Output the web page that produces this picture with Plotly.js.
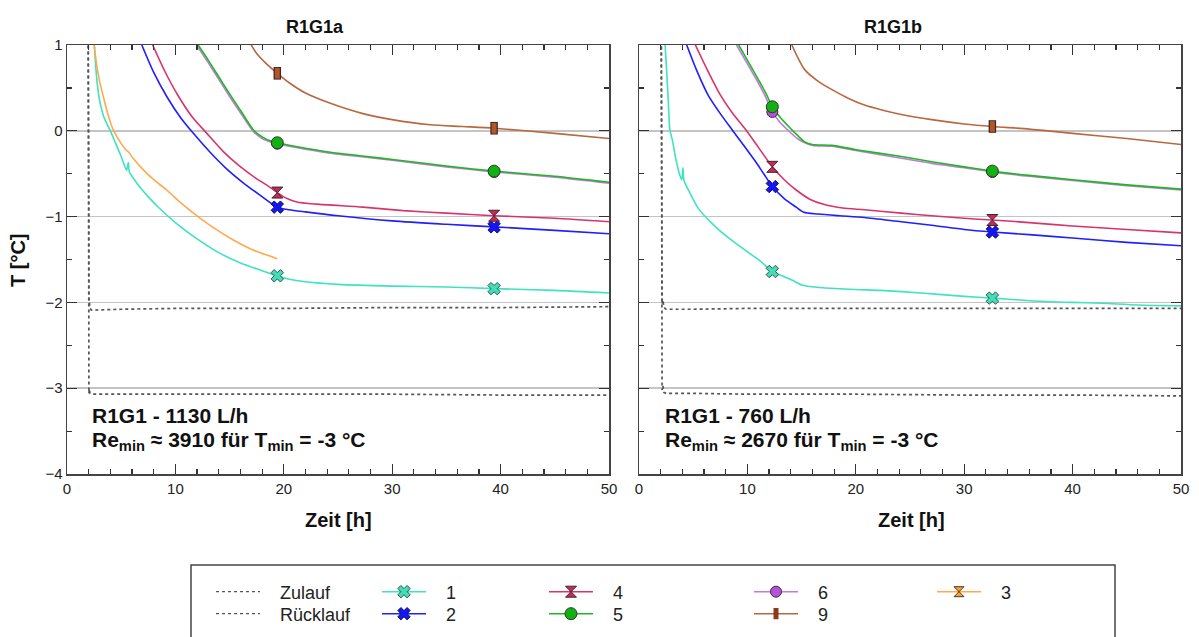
<!DOCTYPE html>
<html><head><meta charset="utf-8">
<script src="https://cdn.plot.ly/plotly-3.0.1.min.js"></script>
<style>html,body{margin:0;padding:0;background:#fff}#chart{width:1199px;height:637px}</style>
</head><body><div id="chart"></div>
<script>
// ================= DATA: R1G1a (left panel) =================
const a_zul_x = [1.6, 1.95, 2.0, 2.02, 2.06, 2.12, 2.25, 5, 10, 20, 30, 40, 50];
const a_zul_y = [1.3, 1.3, -0.5, -2.03, -1.99, -2.07, -2.09, -2.08, -2.07, -2.07, -2.06, -2.06, -2.05];
const a_ruk_x = [1.6, 1.95, 2.0, 2.02, 2.06, 2.12, 2.25, 5, 10, 20, 30, 40, 50];
const a_ruk_y = [1.3, 1.3, -1.0, -3.06, -3.01, -3.06, -3.07, -3.07, -3.07, -3.07, -3.07, -3.08, -3.08];
const a_s1_x = [2.5, 2.62, 2.75, 3.0, 3.4, 4.0, 4.5, 5.0, 5.5, 5.65, 5.75, 6.0, 6.5, 7.5, 8.5, 10, 12, 14, 16, 18, 19.4, 20.5, 22, 25, 30, 35, 39.4, 45, 50];
const a_s1_y = [1.02, 0.8, 0.6, 0.36, 0.16, 0.0, -0.15, -0.3, -0.46, -0.37, -0.48, -0.53, -0.62, -0.77, -0.9, -1.07, -1.26, -1.42, -1.54, -1.63, -1.69, -1.73, -1.76, -1.79, -1.81, -1.82, -1.84, -1.86, -1.89];
const a_s3_x = [2.5, 2.7, 3.0, 3.35, 3.8, 4.27, 5.0, 5.5, 5.7, 6.1, 7, 8, 9.2, 10.5, 12.3, 14, 15.3, 17, 19.4];
const a_s3_y = [1.02, 0.8, 0.58, 0.4, 0.18, 0.01, -0.15, -0.23, -0.25, -0.32, -0.45, -0.57, -0.69, -0.84, -1.02, -1.17, -1.27, -1.38, -1.49];
const a_s2_x = [6.9, 8.0, 9.2, 10.5, 11.8, 13.2, 14.7, 16.2, 17.8, 19.4, 20.5, 22, 25, 30, 35, 39.4, 45, 50];
const a_s2_y = [1.0, 0.68, 0.4, 0.15, -0.05, -0.25, -0.44, -0.6, -0.75, -0.89, -0.92, -0.945, -0.99, -1.05, -1.09, -1.12, -1.16, -1.20];
const a_s4_x = [7.9, 9.0, 10.2, 11.5, 12.9, 14.4, 15.9, 17.5, 18.4, 19.4, 20.3, 21.2, 23, 27.3, 31, 35, 39.4, 45, 50];
const a_s4_y = [1.0, 0.7, 0.42, 0.17, -0.03, -0.24, -0.41, -0.56, -0.63, -0.72, -0.79, -0.83, -0.855, -0.89, -0.93, -0.96, -0.99, -1.02, -1.06];
const a_s5_x = [12.1, 13.0, 14.0, 15.0, 16.0, 17.2, 18.0, 18.8, 19.4, 21, 24.3, 27, 30.4, 35, 39.4, 45, 50];
const a_s5_y = [1.0, 0.83, 0.63, 0.43, 0.24, 0.01, -0.07, -0.12, -0.14, -0.18, -0.25, -0.29, -0.34, -0.41, -0.47, -0.53, -0.6];
const a_s6_x = [11.95, 13.0, 14.0, 15.0, 16.0, 17.2, 18.0, 18.8, 19.4, 21, 24.3, 27, 30.4, 35, 39.4, 45, 50];
const a_s6_y = [1.0, 0.8, 0.6, 0.4, 0.21, -0.01, -0.09, -0.13, -0.15, -0.19, -0.26, -0.3, -0.35, -0.42, -0.48, -0.54, -0.61];
const a_s9_x = [16.9, 17.5, 18.4, 19.4, 20.5, 22, 24.3, 27.3, 30, 33.5, 36.5, 39.4, 45, 50];
const a_s9_y = [1.02, 0.9, 0.78, 0.67, 0.56, 0.44, 0.32, 0.2, 0.13, 0.07, 0.05, 0.03, -0.03, -0.09];
const a_mark_x = [19.4, 39.4];
const a_m1 = [-1.69, -1.84];
const a_m2 = [-0.89, -1.12];
const a_m4 = [-0.72, -0.99];
const a_m5 = [-0.14, -0.47];
const a_m6 = [-0.15, -0.48];
const a_m9 = [0.67, 0.03];

// ================= DATA: R1G1b (right panel) =================
const b_zul_x = [1.8, 2.05, 2.1, 2.13, 2.2, 2.3, 2.5, 5, 10, 20, 30, 40, 50];
const b_zul_y = [1.3, 1.3, -0.5, -2.02, -1.97, -2.06, -2.08, -2.08, -2.07, -2.07, -2.07, -2.07, -2.07];
const b_ruk_x = [1.8, 2.05, 2.1, 2.13, 2.2, 2.3, 2.5, 5, 10, 20, 30, 40, 50];
const b_ruk_y = [1.3, 1.3, -1.0, -3.02, -2.97, -3.05, -3.06, -3.06, -3.07, -3.07, -3.08, -3.08, -3.09];
const b_s1_x = [2.4, 2.55, 2.7, 2.85, 3.1, 3.4, 3.8, 3.95, 4.05, 4.15, 4.6, 5.5, 6.5, 7.5, 8.6, 10, 11.3, 12.3, 13.2, 14.1, 15.1, 17, 20, 22.3, 26, 30, 32.6, 36, 40, 42.7, 46, 50];
const b_s1_y = [1.02, 0.7, 0.35, 0.01, -0.12, -0.33, -0.53, -0.57, -0.43, -0.58, -0.7, -0.91, -1.05, -1.17, -1.28, -1.41, -1.53, -1.64, -1.69, -1.74, -1.80, -1.83, -1.85, -1.86, -1.89, -1.93, -1.95, -1.98, -2.0, -2.01, -2.03, -2.04];
const b_s2_x = [4.4, 5.3, 6.4, 7.5, 8.6, 9.6, 10.7, 11.5, 12.3, 13.4, 14.5, 15.2, 16.5, 18.5, 20.8, 24.2, 27, 30, 32.6, 36, 40, 45, 50];
const b_s2_y = [1.0, 0.71, 0.41, 0.2, 0.01, -0.16, -0.35, -0.5, -0.65, -0.79, -0.89, -0.95, -0.97, -0.99, -1.01, -1.06, -1.1, -1.15, -1.18, -1.21, -1.25, -1.30, -1.34];
const b_s4_x = [5.2, 6.3, 7.4, 8.6, 9.8, 11.0, 12.3, 13.4, 14.5, 15.8, 17.1, 18.8, 20.8, 24.2, 27, 30, 32.6, 36, 40, 45, 50];
const b_s4_y = [1.0, 0.71, 0.44, 0.21, 0.02, -0.19, -0.42, -0.57, -0.69, -0.8, -0.86, -0.9, -0.92, -0.96, -0.99, -1.02, -1.04, -1.07, -1.11, -1.15, -1.19];
const b_s5_x = [9.2, 10.1, 11.0, 11.7, 12.3, 13.0, 13.8, 14.6, 15.3, 16.0, 17.8, 20, 24.2, 27, 30, 32.6, 36, 40, 45, 50];
const b_s5_y = [1.0, 0.8, 0.6, 0.44, 0.28, 0.16, 0.05, -0.05, -0.13, -0.16, -0.17, -0.22, -0.3, -0.36, -0.42, -0.47, -0.52, -0.57, -0.63, -0.68];
const b_s6_x = [9.0, 10.0, 11.0, 11.7, 12.3, 13.0, 13.8, 14.6, 15.3, 16.0, 17.8, 20, 24.2, 27, 30, 32.6, 36, 40, 45, 50];
const b_s6_y = [1.0, 0.78, 0.56, 0.39, 0.22, 0.1, 0.0, -0.09, -0.14, -0.17, -0.18, -0.23, -0.32, -0.38, -0.43, -0.48, -0.53, -0.58, -0.64, -0.69];
const b_s9_x = [14.1, 14.7, 15.3, 16.5, 17.8, 19.3, 20.8, 22.5, 24.2, 27, 30, 32.6, 36, 40, 45, 50];
const b_s9_y = [1.0, 0.84, 0.71, 0.58, 0.48, 0.38, 0.3, 0.24, 0.19, 0.13, 0.08, 0.05, 0.02, -0.03, -0.09, -0.16];
const b_mark_x = [12.3, 32.6];
const b_m1 = [-1.64, -1.95];
const b_m2 = [-0.65, -1.18];
const b_m4 = [-0.42, -1.04];
const b_m5 = [0.28, -0.47];
const b_m6 = [0.22, -0.48];
const b_m9 = [null, 0.05];

// ================= TEXT =================
const panel_titles = ['R1G1a', 'R1G1b'];
const info_line1 = ['R1G1 - 1130 L/h', 'R1G1 - 760 L/h'];
const info_line2 = ['Re<sub>min</sub> ≈ 3910 für T<sub>min</sub> = -3 °C', 'Re<sub>min</sub> ≈ 2670 für T<sub>min</sub> = -3 °C'];
const x_title = 'Zeit [h]';
const y_title = 'T [°C]';
const legend_names = {zul: 'Zulauf', ruk: 'Rücklauf', s1: '1', s2: '2', s3: '3', s4: '4', s5: '5', s6: '6', s9: '9'};

// ================= STYLE =================
const FONT = 'Liberation Sans, Arial, sans-serif';
const COL = {zul: '#555555', s1: '#3fe3bd', s2: '#1f1fff', s3: '#ffa94f', s4: '#d9336b', s5: '#21b821', s6: '#c07ae0', s9: '#b8683e'};
const MK = {
  s1: {symbol: 'x', size: 11, color: '#45dcb8', line: {color: '#2b5a4c', width: 1}},
  s2: {symbol: 'x', size: 11, color: '#1414ff', line: {color: '#1a1a3a', width: 1}},
  s3: {symbol: 'hourglass', size: 10, color: '#ffa030', line: {color: '#4a3a20', width: 1}},
  s4: {symbol: 'hourglass', size: 11, color: '#c8285a', line: {color: '#3a2a2a', width: 1}},
  s5: {symbol: 'circle', size: 12, color: '#12b012', line: {color: '#2a3a2a', width: 1}},
  s6: {symbol: 'circle', size: 11, color: '#b552d8', line: {color: '#3a2a3a', width: 1}}
};

const L = 67, R = 1181, T = 45, B = 474, W = 1199, H = 637;
const px = p => (p - L) / (R - L);
const py = p => (B - p) / (B - T);

const traces = [];
function addLine(x, y, key, xa, ya, dash) {
  traces.push({type: 'scatter', mode: 'lines', x: x, y: y, xaxis: xa, yaxis: ya, showlegend: false,
    line: dash ? {color: COL[key], width: 1.7, dash: dash} : {color: COL[key], width: 1.6, shape: 'spline', smoothing: 0.7},
    hoverinfo: 'skip'});
}
function addMarkers(x, y, key, xa, ya) {
  traces.push({type: 'scatter', mode: 'markers', x: x, y: y, xaxis: xa, yaxis: ya, showlegend: false,
    marker: MK[key], hoverinfo: 'skip'});
}
function addRectMarkers(x, y, xa, ya) {
  traces.push({type: 'scatter', mode: 'markers', x: x, y: y, xaxis: xa, yaxis: ya, showlegend: false,
    marker: {symbol: 'line-ns', size: 9, color: '#3a2a20', line: {color: '#3a2a20', width: 7.5}}, hoverinfo: 'skip'});
  traces.push({type: 'scatter', mode: 'markers', x: x, y: y, xaxis: xa, yaxis: ya, showlegend: false,
    marker: {symbol: 'line-ns', size: 7.6, color: '#b5562a', line: {color: '#b5562a', width: 5}}, hoverinfo: 'skip'});
}

const panels = [
  {xa: 'x', ya: 'y', zul: [a_zul_x, a_zul_y], ruk: [a_ruk_x, a_ruk_y], s1: [a_s1_x, a_s1_y], s3: [a_s3_x, a_s3_y], s2: [a_s2_x, a_s2_y],
   s4: [a_s4_x, a_s4_y], s6: [a_s6_x, a_s6_y], s5: [a_s5_x, a_s5_y], s9: [a_s9_x, a_s9_y],
   mx: a_mark_x, m: {s1: a_m1, s2: a_m2, s4: a_m4, s6: a_m6, s5: a_m5}, m9: a_m9},
  {xa: 'x2', ya: 'y2', zul: [b_zul_x, b_zul_y], ruk: [b_ruk_x, b_ruk_y], s1: [b_s1_x, b_s1_y], s3: null, s2: [b_s2_x, b_s2_y],
   s4: [b_s4_x, b_s4_y], s6: [b_s6_x, b_s6_y], s5: [b_s5_x, b_s5_y], s9: [b_s9_x, b_s9_y],
   mx: b_mark_x, m: {s1: b_m1, s2: b_m2, s4: b_m4, s6: b_m6, s5: b_m5}, m9: b_m9}
];

panels.forEach(p => {
  addLine(p.zul[0], p.zul[1], 'zul', p.xa, p.ya, 'dot');
  addLine(p.ruk[0], p.ruk[1], 'zul', p.xa, p.ya, 'dot');
  ['s1', 's3', 's2', 's4', 's6', 's5', 's9'].forEach(k => { if (p[k]) addLine(p[k][0], p[k][1], k, p.xa, p.ya); });
  ['s1', 's2', 's4', 's6', 's5'].forEach(k => addMarkers(p.mx, p.m[k], k, p.xa, p.ya));
  addRectMarkers(p.mx, p.m9, p.xa, p.ya);
});

// legend entries (one legend per cell of the 5x2 grid)
const legendCells = [
  {key: 'zul', lg: 'legend', dash: 'dot'},
  {key: 'ruk', lg: 'legend2', dash: 'dot'},
  {key: 's1', lg: 'legend3'}, {key: 's2', lg: 'legend4'},
  {key: 's4', lg: 'legend5'}, {key: 's5', lg: 'legend6'},
  {key: 's6', lg: 'legend7'}, {key: 's9', lg: 'legend8'},
  {key: 's3', lg: 'legend9'}
];
const GAP = '\u00a0\u00a0\u00a0';
legendCells.forEach(c => {
  const t = {type: 'scatter', x: [null], y: [null], name: GAP + legend_names[c.key], legend: c.lg, showlegend: true, hoverinfo: 'skip'};
  if (c.dash) {
    t.mode = 'lines'; t.line = {color: '#555', width: 1.2, dash: 'dot'};
  } else if (c.key === 's9') {
    t.mode = 'lines+markers'; t.line = {color: COL.s9, width: 1.6};
    t.marker = {symbol: 'line-ns', size: 8, color: '#8a3a1a', line: {color: '#8a3a1a', width: 5}};
  } else {
    t.mode = 'lines+markers'; t.line = {color: COL[c.key], width: 1.6}; t.marker = MK[c.key];
  }
  traces.push(t);
});

const legPos = {legend: [211, 592], legend2: [211, 614], legend3: [377, 592], legend4: [377, 614],
  legend5: [544, 592], legend6: [544, 614], legend7: [749, 592], legend8: [749, 614], legend9: [932, 592]};

const axCommon = {
  range: [0, 50], tick0: 0, dtick: 10, ticks: 'inside', ticklen: 10, tickwidth: 1.2, tickcolor: '#333',
  minor: {dtick: 2, ticks: 'inside', ticklen: 5, tickwidth: 1.2, tickcolor: '#333', showgrid: false},
  showline: true, linecolor: '#444', linewidth: 1.5, mirror: 'ticks', showgrid: false, zeroline: false,
  tickfont: {size: 15, color: '#222', family: FONT}, automargin: false, fixedrange: true
};
const ayCommon = {
  range: [-4, 1], tick0: 0, dtick: 1, ticks: 'inside', ticklen: 10, tickwidth: 1.2, tickcolor: '#333',
  minor: {dtick: 0.5, ticks: 'inside', ticklen: 5, tickwidth: 1.2, tickcolor: '#333', showgrid: false},
  showline: true, linecolor: '#444', linewidth: 1.5, mirror: 'ticks', showgrid: true, gridcolor: '#c4c4c4', gridwidth: 1.5,
  zeroline: false, tickfont: {size: 15, color: '#222', family: FONT}, automargin: false, fixedrange: true
};

const bold = (t, size, extra) => Object.assign({text: '<b>' + t + '</b>', showarrow: false, font: {size: size, color: '#111', family: FONT}}, extra);

const layout = {
  width: W, height: H, margin: {l: L, r: W - R, t: T, b: H - B, pad: 0, autoexpand: false},
  paper_bgcolor: '#fff', plot_bgcolor: '#fff', font: {family: FONT, color: '#222'},
  xaxis: Object.assign({}, axCommon, {domain: [0, px(609)], anchor: 'y'}),
  xaxis2: Object.assign({}, axCommon, {domain: [px(639), 1], anchor: 'y2'}),
  yaxis: Object.assign({}, ayCommon, {domain: [0, 1], anchor: 'x'}),
  yaxis2: Object.assign({}, ayCommon, {domain: [0, 1], anchor: 'x2', showticklabels: false}),
  annotations: [
    bold(panel_titles[0], 18, {xref: 'paper', yref: 'paper', x: px(315), y: py(27), xanchor: 'center', yanchor: 'middle'}),
    bold(panel_titles[1], 18, {xref: 'paper', yref: 'paper', x: px(893), y: py(27), xanchor: 'center', yanchor: 'middle'}),
    bold(x_title, 20, {xref: 'paper', yref: 'paper', x: px(338), y: py(520), xanchor: 'center', yanchor: 'middle'}),
    bold(x_title, 20, {xref: 'paper', yref: 'paper', x: px(911), y: py(520), xanchor: 'center', yanchor: 'middle'}),
    bold(y_title, 20, {xref: 'paper', yref: 'paper', x: px(18), y: py(260), xanchor: 'center', yanchor: 'middle', textangle: -90}),
    bold(info_line1[0], 21, {xref: 'x', yref: 'y', x: 2.1, y: -3.32, xanchor: 'left'}),
    bold(info_line2[0], 21, {xref: 'x', yref: 'y', x: 2.1, y: -3.62, xanchor: 'left'}),
    bold(info_line1[1], 21, {xref: 'x2', yref: 'y2', x: 2.2, y: -3.32, xanchor: 'left'}),
    bold(info_line2[1], 21, {xref: 'x2', yref: 'y2', x: 2.2, y: -3.62, xanchor: 'left'})
  ],
  shapes: [
    {type: 'rect', xref: 'paper', yref: 'paper', x0: px(191), x1: px(1115), y0: py(650), y1: py(565),
     line: {color: '#444', width: 1.5}, fillcolor: 'rgba(0,0,0,0)'}
  ]
};
Object.keys(legPos).forEach(k => {
  layout[k] = {x: legPos[k][0] / W, y: 1 - legPos[k][1] / H, xref: 'container', yref: 'container',
    xanchor: 'left', yanchor: 'middle', orientation: 'v', bgcolor: 'rgba(0,0,0,0)', borderwidth: 0,
    itemwidth: 44, font: {size: 18, color: '#222', family: FONT}, itemclick: false, itemdoubleclick: false};
});

Plotly.newPlot('chart', traces, layout, {displayModeBar: false, staticPlot: true});
</script>
</body></html>
